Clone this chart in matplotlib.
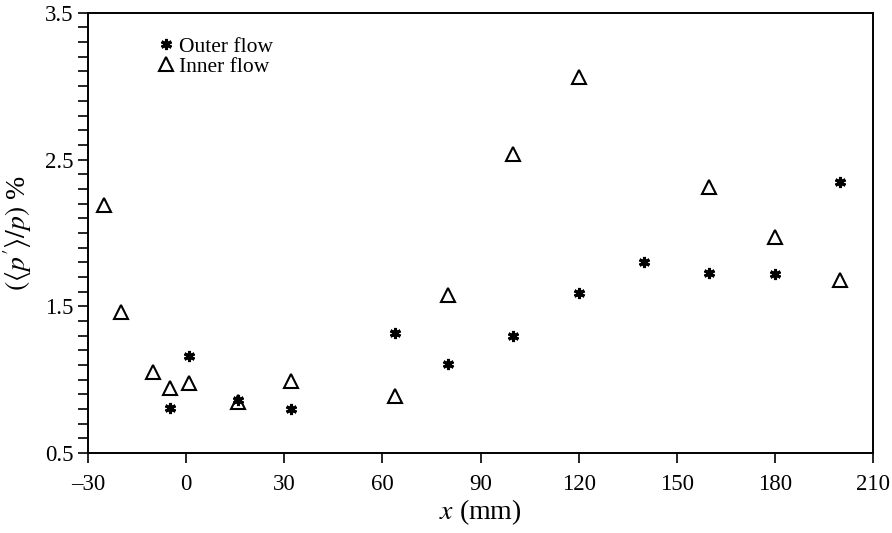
import numpy as np
import matplotlib
matplotlib.use('Agg')
import matplotlib.pyplot as plt
from matplotlib.ticker import MultipleLocator

plt.rcParams['font.family'] = 'Liberation Serif'
plt.rcParams['mathtext.fontset'] = 'stix'

# outer flow (stars)
outer_x = [-5, 1, 16, 32, 64, 80, 100, 120, 140, 160, 180, 200]
outer_y = [0.81, 1.16, 0.86, 0.80, 1.32, 1.11, 1.30, 1.59, 1.80, 1.73, 1.72, 2.35]

# inner flow (triangles)
inner_x = [-25, -20, -10, -5, 1, 16, 32, 64, 80, 100, 120, 160, 180, 200]
inner_y = [2.19, 1.46, 1.05, 0.94, 0.98, 0.85, 0.99, 0.89, 1.58, 2.54, 3.06, 2.31, 1.97, 1.68]

xticks = [-30, 0, 30, 60, 90, 120, 150, 180, 210]
yticks = [0.5, 1.5, 2.5, 3.5]

fig = plt.figure(figsize=(8.92, 5.33), dpi=100)
ax = fig.add_axes([0.0987, 0.150, 0.880, 0.826])

ax.plot(outer_x, outer_y, linestyle='none', marker=(6, 2, 0), markersize=8,
        markeredgewidth=2.2, color='black', label='Outer flow')
ax.plot(inner_x, inner_y, linestyle='none', marker='^', markersize=9.5,
        markerfacecolor='none', markeredgecolor='black', markeredgewidth=1.5,
        label='Inner flow')

ax.set_xlim(-30, 210)
ax.set_ylim(0.5, 3.5)
ax.set_xticks(xticks)
ax.set_xticklabels(['\u201330' if t < 0 else str(t) for t in xticks])
ax.set_yticks(yticks)
ax.set_yticklabels([str(t) for t in yticks])
ax.yaxis.set_minor_locator(MultipleLocator(0.1))
ax.tick_params(axis='both', which='both', direction='out', length=7, width=1.2,
               labelsize=16.5, top=False, right=False)
ax.tick_params(axis='x', pad=8)
for s in ax.spines.values():
    s.set_linewidth(1.4)

ax.set_xlabel(r'$x$ (mm)', fontsize=20, labelpad=2)
ax.set_ylabel(r"$(\langle p'\rangle/p)$ %", fontsize=20, labelpad=8)

ax.legend(loc='upper left', bbox_to_anchor=(0.075, 0.965), frameon=False,
          fontsize=15.5, handletextpad=0.1, handlelength=1.0, borderaxespad=0,
          labelspacing=0.0)

fig.savefig('out.png', dpi=100)
